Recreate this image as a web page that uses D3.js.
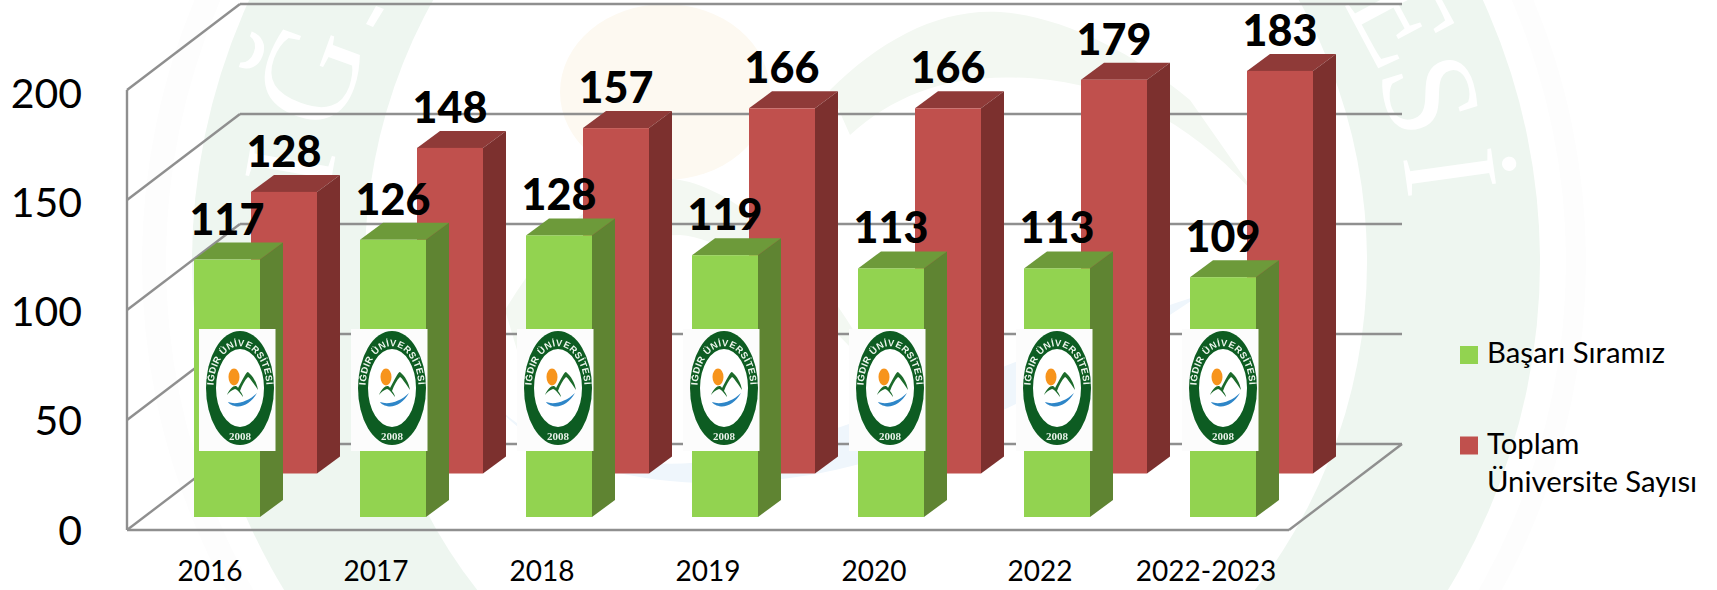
<!DOCTYPE html>
<html><head><meta charset="utf-8">
<script src="https://cdn.jsdelivr.net/npm/d3@7"></script>
<style>html,body{margin:0;padding:0;background:#fff;overflow:hidden}svg{display:block}text{font-family:Lato,"Open Sans",sans-serif}</style>
</head><body><svg id="c" width="1717" height="590">
<defs><filter id="soft" x="-5%" y="-5%" width="110%" height="110%"><feGaussianBlur stdDeviation="0.35"/></filter></defs>
</svg>
<script>
const categories = ["2016","2017","2018","2019","2020","2022","2022-2023"];
const basariSiramiz = [117,126,128,119,113,113,109];
const toplamUniversite = [128,148,157,166,166,179,183];
const yTicks = [0,50,100,150,200];
const seriesNames = ["Başarı Sıramız",["Toplam","Üniversite Sayısı"]];

const svg = d3.select("#c");
const C = {green:"#92d350",greenTop:"#6d9a3a",greenSide:"#5f8432",red:"#c0504d",redTop:"#8f3a38",redSide:"#7c302e",grid:"#8f8f8f",wm:"#eef6f0"};

const x = d3.scaleBand().domain(categories).range([127,1289]);
const y = d3.scaleLinear().domain([0,200]).range([530,90]);
const tickY = d3.scaleLinear().domain([0,200]).range([531,94]);
const wallDx = 113, wallDy = -86;
const depthDx = 23, depthDy = -17;
const barW = 66;

/* --- watermark --- */
const wm = svg.append("g");
const cx = 866, cy = 262;
wm.append("ellipse").attr("cx",cx-2).attr("cy",cy).attr("rx",722).attr("ry",700).attr("fill","#fdfdfd");
wm.append("ellipse").attr("cx",cx).attr("cy",cy).attr("rx",700).attr("ry",678).attr("fill","#fff");
wm.append("ellipse").attr("cx",cx).attr("cy",cy).attr("rx",674).attr("ry",650).attr("fill",C.wm);
wm.append("ellipse").attr("cx",cx).attr("cy",cy).attr("rx",501).attr("ry",520).attr("fill","#fff");
wm.append("ellipse").attr("cx",665).attr("cy",92).attr("rx",105).attr("ry",88).attr("fill","#fdf9f1");
wm.append("path").attr("fill","#f3f8f2").attr("d","M830 90 C880 40 940 8 1000 12 C1060 16 1130 50 1190 100 L1260 200 C1200 130 1130 90 1050 80 C960 70 900 90 850 135 Z");
wm.append("path").attr("fill","#f3f8f2").attr("d","M505 310 C560 220 620 170 680 180 C740 190 830 270 880 380 C820 310 740 240 680 235 C620 235 560 290 520 360 Z");
wm.append("path").attr("fill","#eff6fc").attr("d","M495 405 C560 470 700 480 800 440 C930 400 1060 340 1200 295 C1090 370 950 450 810 475 C690 495 560 480 495 405 Z");
const letter = (t,px,py,rot,size)=>wm.append("text").attr("transform",`translate(${px},${py}) rotate(${rot})`)
  .attr("text-anchor","middle").attr("dy",".33em").style("font-family","Liberation Serif").attr("font-size",size).attr("fill","#fff").text(t);
letter("Ğ",310,75,-70,135);
letter("I",290,166,-80,130);
letter("S",1430,95,73,135);
letter("İ",1450,172,82,135);
letter("E",1402,18,62,135);
wm.append("path").attr("fill","#fff").attr("d","M366 24 L373 27 L384 9 L376 6 Z");

/* --- walls --- */
const grid = svg.append("g").attr("stroke",C.grid).attr("stroke-width",2.4).attr("fill","none");
grid.selectAll(".back").data(yTicks).join("line").attr("class","back")
  .attr("x1",x.range()[0]+wallDx).attr("x2",x.range()[1]+wallDx)
  .attr("y1",d=>y(d)+wallDy).attr("y2",d=>y(d)+wallDy);
grid.selectAll(".side").data(yTicks).join("line").attr("class","side")
  .attr("x1",x.range()[0]).attr("x2",x.range()[0]+wallDx)
  .attr("y1",d=>y(d)).attr("y2",d=>y(d)+wallDy);
grid.append("line").attr("x1",x.range()[0]).attr("x2",x.range()[0]).attr("y1",y(200)).attr("y2",y(0));
grid.append("line").attr("x1",x.range()[0]).attr("x2",x.range()[1]).attr("y1",y(0)).attr("y2",y(0));
grid.append("line").attr("x1",x.range()[1]).attr("x2",x.range()[1]+wallDx).attr("y1",y(0)).attr("y2",y(0)+wallDy);

/* --- bars --- */
function bars(values, xOff, floorDy, front, top, side){
  const g = svg.append("g");
  const rows = g.selectAll("g").data(values).join("g");
  const X = (d,i)=>x(categories[i])+xOff;
  const T = d=>y(d)+floorDy, B = y(0)+floorDy;
  rows.append("path").attr("fill",top).attr("d",(d,i)=>{const a=X(d,i),t=T(d);
    return `M${a} ${t}L${a+depthDx} ${t+depthDy}L${a+barW+depthDx} ${t+depthDy}L${a+barW} ${t}Z`;});
  rows.append("path").attr("fill",side).attr("d",(d,i)=>{const a=X(d,i)+barW,t=T(d);
    return `M${a} ${t}L${a+depthDx} ${t+depthDy}L${a+depthDx} ${B+depthDy}L${a} ${B}Z`;});
  rows.append("rect").attr("fill",front).attr("x",X).attr("y",T).attr("width",barW).attr("height",d=>B-T(d));
}
bars(toplamUniversite,124,-56.5,C.red,C.redTop,C.redSide);
bars(basariSiramiz,67,-13,C.green,C.greenTop,C.greenSide);

/* --- logos --- */
function logo(g){
  g.append("rect").attr("width",76.5).attr("height",122).attr("y",0).attr("fill","#fcfcfc");
  const c = g.append("g").attr("transform","translate(41,59)").attr("filter","url(#soft)");
  c.append("ellipse").attr("rx",34).attr("ry",57).attr("fill","#0b5c20");
  c.append("ellipse").attr("rx",24).attr("ry",39).attr("cy",0).attr("fill","#fff");
  c.append("ellipse").attr("cx",-6).attr("cy",-11).attr("rx",5.5).attr("ry",8.5).attr("fill","#f7941d");
  c.append("path").attr("fill","#1b6b2c").attr("d","M-13 7 C-9 -2 -4 -4 -2 0 C3 -9 6 -16 8 -16 C13 -12 17 -5 18 2 C14 -4 10 -10 8 -11 C5 -8 2 -3 0 3 C2 5 3 8 3 9 C0 5 -3 1 -5 1 C-8 2 -11 4 -13 7Z");
  c.append("path").attr("fill","#2e86c8").attr("d","M-12 14 C-4 17 8 14 17 5 C12 14 4 19 -3 18.5 C-7 18 -11 16 -12 14Z");
  c.append("text").attr("y",52).attr("text-anchor","middle").attr("font-size",11).attr("font-weight",700).attr("fill","#e8f0e8").style("font-family","Liberation Sans Narrow").text("2008");
  c.append("path").attr("id",g.attr("data-id")).attr("fill","none").attr("d","M-26.24 6 A26.5 42 0 1 1 26.24 6");
  c.append("text").attr("font-size",9.4).attr("font-weight",700).attr("letter-spacing",0.5).attr("fill","#eef5ee").style("font-family","Liberation Sans")
    .append("textPath").attr("href","#"+g.attr("data-id")).attr("startOffset","50%").attr("text-anchor","middle").text("IĞDIR ÜNİVERSİTESİ");
}
categories.forEach((c,i)=>{
  const g = svg.append("g").attr("data-id","arc"+i)
    .attr("transform",`translate(${x(c)+(i===0?72:i>4?59:58)},329)`);
  logo(g);
});

/* --- data labels --- */
function labels(values,xOff,floorDy){
  svg.append("g").selectAll("text").data(values).join("text")
    .attr("x",(d,i)=>x(categories[i])+xOff+barW/2)
    .attr("y",d=>y(d)+floorDy-25)
    .attr("text-anchor","middle").attr("font-weight",900).attr("font-size",43).attr("fill","#000")
    .text(d=>d);
}
labels(toplamUniversite,124,-56.5);
labels(basariSiramiz,67,-13);

/* --- axes --- */
const yAxis = svg.append("g").attr("transform","translate(82,0)")
  .call(d3.axisLeft(tickY).tickValues(yTicks).tickSize(0).tickPadding(0));
yAxis.select(".domain").remove();
yAxis.selectAll("text").style("font-family","Lato").attr("font-size",41).attr("fill","#000");

const xAxis = svg.append("g").attr("transform","translate(0,581)")
  .call(d3.axisBottom(x).tickSize(0).tickPadding(0));
xAxis.select(".domain").remove();
xAxis.selectAll("text").style("font-family","Lato").attr("font-size",28).attr("fill","#000").attr("y",0).attr("dy",0);

/* --- legend --- */
const lg = svg.append("g");
const swatch = [[C.green,346],[C.red,436.5]];
lg.selectAll("rect").data(swatch).join("rect").attr("x",1460).attr("y",d=>d[1]).attr("width",18).attr("height",18).attr("fill",d=>d[0]);
lg.append("text").attr("x",1487).attr("y",363).attr("font-size",29.3).attr("fill","#000").text(seriesNames[0]);
lg.append("text").attr("x",1487).attr("y",453.5).attr("font-size",29.3).attr("fill","#000").text(seriesNames[1][0]);
lg.append("text").attr("x",1487).attr("y",492).attr("font-size",29.3).attr("fill","#000").text(seriesNames[1][1]);
</script></body></html>
